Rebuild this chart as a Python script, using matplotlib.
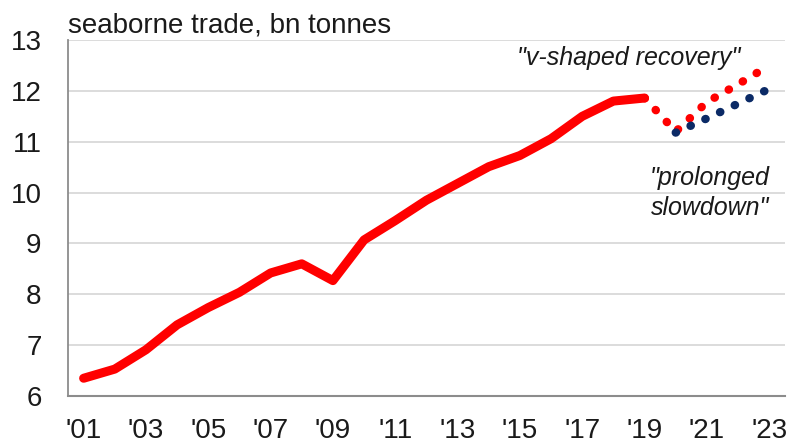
import matplotlib
matplotlib.use('Agg')
import matplotlib.pyplot as plt

# actual seaborne trade, bn tonnes
years = list(range(2001, 2020))
trade = [6.35, 6.53, 6.91, 7.40, 7.74, 8.04, 8.42, 8.60, 8.27, 9.07,
         9.45, 9.85, 10.18, 10.51, 10.73, 11.06, 11.50, 11.80, 11.86]

# scenarios
v_years = [2019, 2020, 2021, 2022, 2023]
v_shape = [11.86, 11.20, 11.78, 12.13, 12.50]
slow_years = [2020, 2021, 2022, 2023]
slowdown = [11.18, 11.46, 11.75, 12.04]

tick_years = list(range(2001, 2024, 2))
tick_labels = ["'%02d" % (y % 100) for y in tick_years]
y_ticks = [6, 7, 8, 9, 10, 11, 12, 13]

plt.rcParams['font.family'] = ['Liberation Sans', 'DejaVu Sans']

fig = plt.figure(figsize=(7.92, 4.45), dpi=100)
ax = fig.add_axes([0.0859, 0.110, 0.905, 0.800])

ax.plot(years, trade, color='#ff0000', lw=6.5, solid_capstyle='round',
        solid_joinstyle='round', zorder=3)
ax.plot(v_years, v_shape, color='#ff0000', lw=6, linestyle=(0, (0.05, 1.9)),
        dash_capstyle='round', zorder=2)
ax.plot(slow_years, slowdown, color='#0b2a66', lw=6, linestyle=(0, (0.05, 1.9)),
        dash_capstyle='round', zorder=4)

ax.set_xlim(2000.5, 2023.5)
ax.set_ylim(6, 13)
ax.set_xticks(tick_years)
ax.set_xticklabels(tick_labels)
ax.set_yticks(y_ticks)
ax.tick_params(axis='both', length=0, labelsize=20, colors='#1a1a1a')
ax.tick_params(axis='y', pad=19)
ax.tick_params(axis='x', pad=16)

ax.grid(axis='y', color='#d9d9d9', lw=1.3)
ax.set_axisbelow(True)
for s in ['top', 'right']:
    ax.spines[s].set_visible(False)
ax.spines['left'].set_color('#8c8c8c')
ax.spines['left'].set_linewidth(1.3)
ax.spines['bottom'].set_color('#8c8c8c')
ax.spines['bottom'].set_linewidth(1.5)

ax.text(0, 1.02, 'seaborne trade, bn tonnes', transform=ax.transAxes,
        fontsize=20, color='#1a1a1a', va='baseline', ha='left')
ax.text(2018.5, 12.50, '"v-shaped recovery"', fontsize=18, style='italic',
        color='#1a1a1a', ha='center', va='baseline')
ax.text(2023.0, 9.56, '"prolonged\nslowdown"', fontsize=18, style='italic',
        color='#1a1a1a', ha='right', va='baseline', linespacing=1.3)

fig.savefig('out.png', dpi=100)
